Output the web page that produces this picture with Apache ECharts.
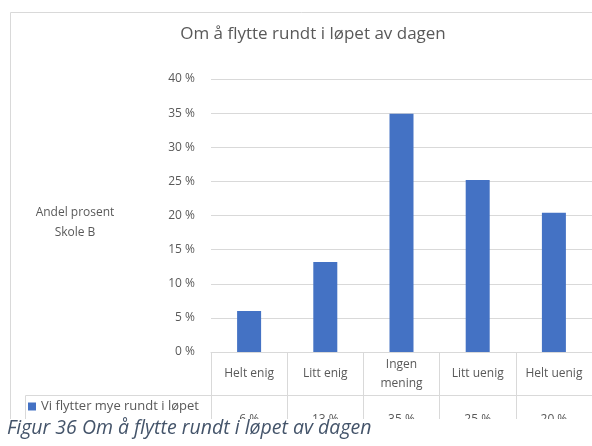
<!DOCTYPE html>
<html>
<head>
<meta charset="utf-8">
<script src="https://cdn.jsdelivr.net/npm/echarts@6/dist/echarts.min.js"></script>
<style>
  html, body { margin: 0; padding: 0; background: #fff; }
  #chart { width: 592px; height: 446px; }
</style>
</head>
<body>
<div id="chart"></div>
<script>
const categories = ["Helt enig", "Litt enig", "Ingen\nmening", "Litt uenig", "Helt uenig"];
const values = [6.0, 13.2, 34.9, 25.2, 20.4];
const tableLabels = ["6 %", "13 %", "35 %", "25 %", "20 %"];
const seriesName = "Vi flytter mye rundt i løpet av dagen";
const yAxisTitle = "Andel prosent\nSkole B";

const font = "'Open Sans', 'Noto Sans', sans-serif";
const textColor = "#595959";
const lineColor = "#d9d9d9";

const chart = echarts.init(document.getElementById("chart"));

chart.setOption({
  animation: false,
  textStyle: { fontFamily: font },
  title: {
    text: "Om å flytte rundt i løpet av dagen",
    left: 308,
    top: 21,
    textAlign: "center",
    textStyle: { color: textColor, fontSize: 17, fontWeight: "normal", fontFamily: font },
  },
  legend: {
    left: 28,
    top: 400,
    padding: 0,
    icon: "rect",
    itemWidth: 8,
    itemHeight: 8,
    textStyle: { color: textColor, fontSize: 13, width: 163, overflow: "truncate", ellipsis: "", fontFamily: font },
    data: [seriesName],
  },
  grid: { left: 211, right: 0, top: 79, bottom: 94 },
  xAxis: [
    {
      type: "category",
      data: categories,
      axisLine: { lineStyle: { color: lineColor } },
      axisTick: { show: true, alignWithLabel: false, length: 80, lineStyle: { color: lineColor } },
      axisLabel: {
        color: textColor,
        fontSize: 12,
        lineHeight: 19,
        margin: 22,
        verticalAlign: "middle",
        interval: 0,
        fontFamily: font,
      },
    },
    {
      type: "category",
      data: categories,
      position: "bottom",
      offset: 43,
      axisLine: { show: true, lineStyle: { color: lineColor } },
      axisTick: { show: false },
      axisLabel: {
        color: textColor,
        fontSize: 12,
        margin: 25,
        verticalAlign: "middle",
        interval: 0,
        fontFamily: font,
        formatter: (v, i) => tableLabels[i],
      },
    },
  ],
  yAxis: {
    type: "value",
    min: 0,
    max: 40,
    interval: 5,
    axisLine: { show: false },
    axisTick: { show: false },
    axisLabel: { color: textColor, fontSize: 12, margin: 16, formatter: "{value} %", fontFamily: font },
    splitLine: { lineStyle: { color: lineColor } },
  },
  series: [
    {
      name: seriesName,
      type: "bar",
      data: values,
      barWidth: 24,
      itemStyle: { color: "#4472C4" },
    },
  ],
  graphic: [
    {
      type: "polyline",
      shape: { points: [[10.5, 460], [10.5, 12.5], [600, 12.5]] },
      style: { stroke: lineColor, fill: null, lineWidth: 1 },
    },
    {
      type: "polyline",
      shape: { points: [[25.5, 460], [25.5, 395.5], [211, 395.5]] },
      style: { stroke: lineColor, fill: null, lineWidth: 1 },
    },
    {
      type: "text",
      x: 75,
      y: 223,
      style: {
        text: yAxisTitle,
        fill: textColor,
        align: "center",
        verticalAlign: "middle",
        lineHeight: 20,
        font: "12px 'Open Sans', 'Noto Sans', sans-serif",
      },
    },
    {
      type: "rect",
      z: 100,
      shape: { x: 0, y: 419, width: 592, height: 27 },
      style: { fill: "#fff" },
    },
    {
      type: "text",
      z: 101,
      left: 7,
      top: 418,
      style: {
        text: "Figur 36 Om å flytte rundt i løpet av dagen",
        fill: "#44546A",
        font: "italic 19.5px 'Open Sans', 'Noto Sans', sans-serif",
      },
    },
  ],
});
</script>
</body>
</html>
